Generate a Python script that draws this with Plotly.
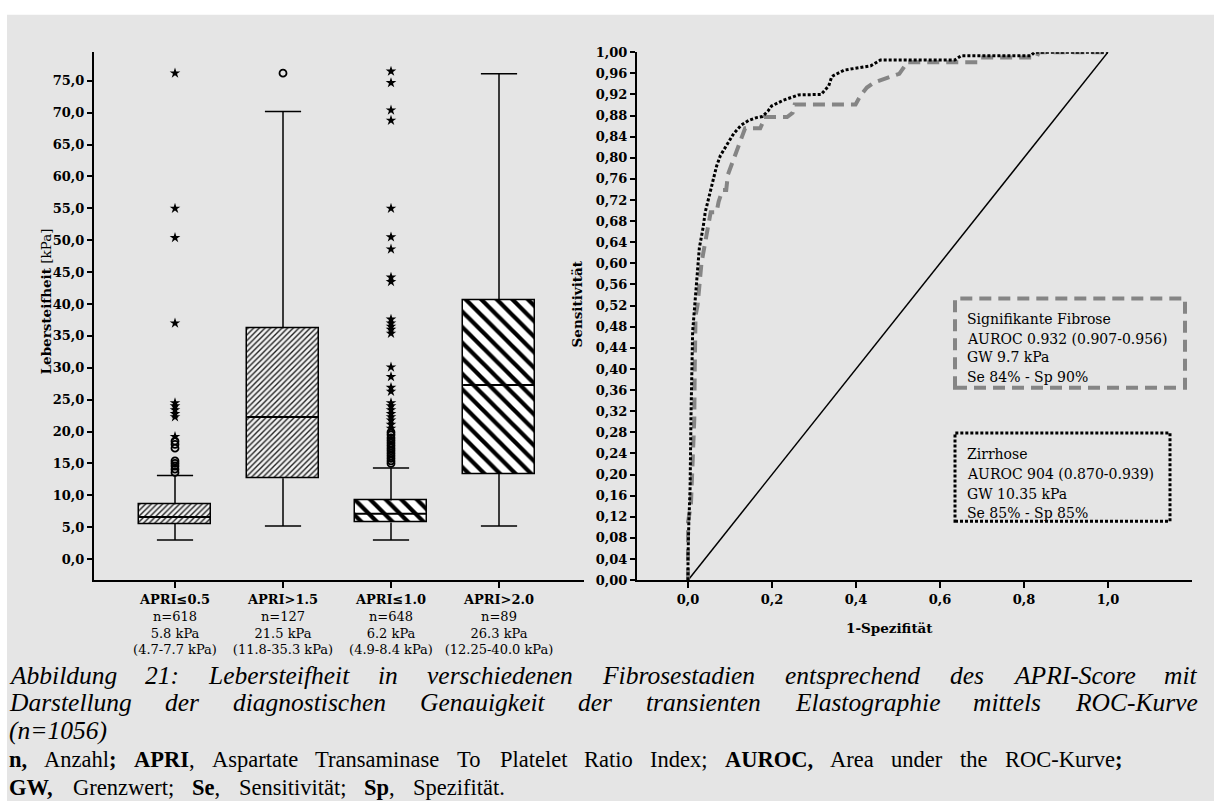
import plotly.graph_objects as go

W, H = 1214, 809

# ---------------- data: box plot (left panel) ----------------
categories = ["APRI≤0.5", "APRI>1.5", "APRI≤1.0", "APRI>2.0"]
n_counts = [618, 127, 648, 89]
median_text = ["5.8 kPa", "21.5 kPa", "6.2 kPa", "26.3 kPa"]
iqr_text = ["(4.7-7.7 kPa)", "(11.8-35.3 kPa)", "(4.9-8.4 kPa)", "(12.25-40.0 kPa)"]
whisker_low = [3.0, 5.2, 3.0, 5.2]
q1 = [5.5, 12.7, 5.75, 13.4]
median = [6.6, 22.3, 7.1, 27.3]
q3 = [8.6, 36.2, 9.2, 40.6]
whisker_high = [13.1, 70.2, 14.3, 76.1]

stars_apri05 = [76.2, 55.0, 50.4, 37.0, 24.5, 24.0, 23.4, 22.8, 22.3, 19.2]
circles_apri05 = [18.5, 18.0, 17.4, 15.4, 15.0, 14.6, 14.1, 13.6]
circles_apri15 = [76.2]
stars_apri10 = [76.5, 74.7, 70.4, 68.8, 55.0, 50.5, 48.6, 44.2, 43.5, 37.6, 37.0,
                36.5, 36.0, 35.4, 30.1, 28.6, 26.9, 26.3, 24.5, 24.0, 23.4, 22.8,
                22.3, 21.8, 21.1, 20.5]
circles_apri10 = [19.9, 19.5, 19.0, 18.6, 18.2, 17.8, 17.4, 17.0, 16.6, 16.2,
                  15.8, 15.4, 15.0]

# ---------------- data: ROC curves (right panel) ----------------
zirr_fpr = [0.0, 0.0, 0.002, 0.005, 0.007, 0.009, 0.011, 0.014, 0.018, 0.023, 0.027,
            0.036, 0.041, 0.050, 0.059, 0.068, 0.077, 0.091, 0.109, 0.127, 0.145,
            0.163, 0.177, 0.190, 0.199, 0.227, 0.263, 0.317, 0.335, 0.342, 0.345,
            0.372, 0.435, 0.458, 0.635, 0.650, 0.816, 0.825, 1.0]
zirr_tpr = [0.0, 0.045, 0.110, 0.175, 0.305, 0.435, 0.470, 0.500, 0.545, 0.590, 0.629,
            0.668, 0.697, 0.726, 0.758, 0.784, 0.804, 0.823, 0.846, 0.862, 0.871,
            0.876, 0.878, 0.888, 0.898, 0.909, 0.919, 0.920, 0.936, 0.953, 0.955,
            0.966, 0.974, 0.985, 0.985, 0.993, 0.993, 1.0, 1.0]
sig_fpr = [0.0, 0.0, 0.007, 0.011, 0.015, 0.016, 0.018, 0.023, 0.027, 0.032, 0.041,
           0.050, 0.054, 0.068, 0.073, 0.082, 0.091, 0.095, 0.104, 0.118, 0.127,
           0.136, 0.172, 0.177, 0.181, 0.236, 0.249, 0.254, 0.399, 0.410, 0.426,
           0.444, 0.480, 0.503, 0.517, 0.520, 0.690, 0.695, 0.830, 0.835, 1.0]
sig_tpr = [0.0, 0.110, 0.143, 0.210, 0.305, 0.400, 0.500, 0.522, 0.561, 0.600, 0.640,
           0.680, 0.697, 0.697, 0.717, 0.739, 0.739, 0.768, 0.788, 0.820, 0.840,
           0.856, 0.856, 0.865, 0.877, 0.877, 0.885, 0.901, 0.901, 0.917, 0.933,
           0.943, 0.953, 0.959, 0.975, 0.981, 0.981, 0.990, 0.990, 1.0, 1.0]

sig_text = ["Signifikante Fibrose", "AUROC 0.932 (0.907-0.956)", "GW 9.7 kPa", "Se 84% - Sp 90%"]
zirr_text = ["Zirrhose", "AUROC 904 (0.870-0.939)", "GW 10.35 kPa", "Se 85% - Sp 85%"]

caption_lines = [
    "Abbildung 21: Lebersteifheit in verschiedenen Fibrosestadien entsprechend des APRI-Score mit",
    "Darstellung der diagnostischen Genauigkeit der transienten Elastographie mittels ROC-Kurve",
    "(n=1056)",
]
# abbreviation notes: words as (text, bold) pieces
note_words1 = [[("n,", 1)], [("Anzahl", 0), (";", 1)], [("APRI", 1), (",", 0)], [("Aspartate", 0)],
               [("Transaminase", 0)], [("To", 0)], [("Platelet", 0)], [("Ratio", 0)],
               [("Index;", 0)], [("AUROC,", 1)], [("Area", 0)], [("under", 0)], [("the", 0)],
               [("ROC-Kurve", 0), (";", 1)]]
note_words2 = [[("GW,", 1)], [("Grenzwert;", 0)], [("Se", 1), (",", 0)], [("Sensitivität;", 0)],
               [("Sp", 1), (",", 0)], [("Spezifität.", 0)]]

# ---------------- layout helpers ----------------
FONT = "DejaVu Serif"
CAP_FONT = "Liberation Serif"
BG = "#e5e5e5"

def px_x(p):
    return p / W

def px_y(p):
    return 1 - p / H

# Times advance widths (per 1000 em) used to spread words like the justified source
TI = {' ': 250, 'A': 611, 'B': 611, 'C': 667, 'D': 722, 'E': 611, 'F': 611, 'G': 722,
      'H': 722, 'I': 333, 'K': 667, 'L': 556, 'M': 833, 'N': 667, 'O': 722, 'P': 611,
      'R': 611, 'S': 500, 'T': 556, 'U': 722, 'a': 500, 'b': 500, 'c': 444, 'd': 500,
      'e': 444, 'f': 278, 'g': 500, 'h': 500, 'i': 278, 'k': 444, 'l': 278, 'm': 722,
      'n': 500, 'o': 500, 'p': 500, 'r': 389, 's': 389, 't': 278, 'u': 500, 'v': 444,
      'w': 667, 'z': 389, ':': 333, '-': 333, '(': 333, ')': 333, '=': 675}
TR = {' ': 250, ',': 250, ';': 278, '.': 250, '-': 333, 'A': 722, 'C': 667, 'G': 722,
      'I': 333, 'K': 722, 'O': 722, 'P': 556, 'R': 667, 'S': 556, 'T': 611, 'W': 944,
      'a': 444, 'b': 500, 'c': 444, 'd': 500, 'e': 444, 'f': 333, 'g': 500, 'h': 500,
      'i': 278, 'k': 500, 'l': 278, 'm': 778, 'n': 500, 'o': 500, 'p': 500, 'r': 333,
      's': 389, 't': 278, 'u': 500, 'v': 500, 'w': 722, 'x': 500, 'z': 444, 'ä': 444,
      'ü': 500}
TB = {',': 250, ';': 333, 'n': 556, 'A': 722, 'P': 611, 'R': 722, 'I': 389, 'U': 722,
      'O': 778, 'C': 722, 'G': 778, 'W': 1000, 'S': 556, 'e': 444, 'p': 556}

def tw(s, size, table):
    return sum(table.get(c, 500) for c in s) * size / 1000.0

def piece_width(pieces, size):
    return sum(tw(t, size, TB if b else TR) for t, b in pieces)

def piece_html(pieces):
    return "".join(f"<b>{t}</b>" if b else t for t, b in pieces)

fig = go.Figure()

pos = list(range(len(categories)))
BOXW = 0.665
CAPW = 0.335

# boxes (hatched bars from q1 to q3)
for idxs, shape, size, sol, fg, bgc in [([0, 1], "/", 4, 0.34, "#202020", "#f2f2f2"),
                                        ([2, 3], "\\", 11, 0.38, "#000000", "#ffffff")]:
    fig.add_trace(go.Bar(
        x=[pos[i] for i in idxs], y=[q3[i] - q1[i] for i in idxs], base=[q1[i] for i in idxs],
        width=BOXW, xaxis="x", yaxis="y", opacity=1,
        marker=dict(color="white", opacity=1, line=dict(color="black", width=1.5),
                    pattern=dict(shape=shape, size=size, solidity=sol, fgcolor=fg,
                                 bgcolor=bgc, fgopacity=1, fillmode="replace")),
        showlegend=False, hoverinfo="skip"))

# whiskers, caps and medians
wx, wy = [], []
for i in pos:
    wx += [i, i, None, i, i, None]
    wy += [q3[i], whisker_high[i], None, q1[i], whisker_low[i], None]
    for v in (whisker_high[i], whisker_low[i]):
        wx += [i - CAPW / 2, i + CAPW / 2, None]
        wy += [v, v, None]
fig.add_trace(go.Scatter(x=wx, y=wy, mode="lines", line=dict(color="black", width=1.5),
                         xaxis="x", yaxis="y", showlegend=False, hoverinfo="skip"))
mx, my = [], []
for i in pos:
    mx += [i - BOXW / 2, i + BOXW / 2, None]
    my += [median[i], median[i], None]
fig.add_trace(go.Scatter(x=mx, y=my, mode="lines", line=dict(color="black", width=2),
                         xaxis="x", yaxis="y", showlegend=False, hoverinfo="skip"))

# outliers
for cat, vals in [(0, stars_apri05), (2, stars_apri10)]:
    fig.add_trace(go.Scatter(x=[pos[cat]] * len(vals), y=vals, mode="markers",
                             marker=dict(symbol="star", size=8, color="black"),
                             xaxis="x", yaxis="y", showlegend=False, hoverinfo="skip"))
for cat, vals in [(0, circles_apri05), (1, circles_apri15), (2, circles_apri10)]:
    fig.add_trace(go.Scatter(x=[pos[cat]] * len(vals), y=vals, mode="markers",
                             marker=dict(symbol="circle-open", size=7, color="black",
                                         line=dict(width=1.8)),
                             xaxis="x", yaxis="y", showlegend=False, hoverinfo="skip"))

# ROC panel
fig.add_trace(go.Scatter(x=[0, 1], y=[0, 1], mode="lines", line=dict(color="black", width=1.5),
                         xaxis="x2", yaxis="y2", showlegend=False, hoverinfo="skip"))
fig.add_trace(go.Scatter(x=sig_fpr, y=sig_tpr, mode="lines",
                         line=dict(color="#858585", width=4, dash="12px,7px"),
                         xaxis="x2", yaxis="y2", showlegend=False, hoverinfo="skip"))
fig.add_trace(go.Scatter(x=zirr_fpr, y=zirr_tpr, mode="lines",
                         line=dict(color="black", width=3, dash="3px,2px"),
                         xaxis="x2", yaxis="y2", showlegend=False, hoverinfo="skip"))

# info boxes on the ROC panel (placed in page pixels)
fig.add_shape(type="rect", xref="paper", yref="paper", x0=px_x(955), x1=px_x(1185),
              y0=px_y(388), y1=px_y(297),
              line=dict(color="#858585", width=4, dash="12px,7px"), fillcolor="rgba(0,0,0,0)")
fig.add_shape(type="rect", xref="paper", yref="paper", x0=px_x(955), x1=px_x(1170),
              y0=px_y(524), y1=px_y(434),
              line=dict(color="black", width=3, dash="3px,2px"), fillcolor="rgba(0,0,0,0)")
for lines, ys in [(sig_text, [318, 338, 357, 377]), (zirr_text, [455, 476, 496, 516])]:
    for t, yv in zip(lines, ys):
        fig.add_annotation(x=px_x(966), y=px_y(yv), xref="paper", yref="paper", text=t,
                           showarrow=False, xanchor="left", yanchor="middle", borderpad=0,
                           font=dict(family=FONT, size=14, color="black"))

# background
fig.add_shape(type="rect", xref="paper", yref="paper", x0=px_x(7), x1=1, y0=0, y1=px_y(8),
              fillcolor=BG, line=dict(width=0), layer="below")

ticktext = [f"<b>{c}</b><br>n={n}<br>{m}<br>{r}" for c, n, m, r in
            zip(categories, n_counts, median_text, iqr_text)]

ydom = [px_y(584), px_y(46)]
D = 420.0  # pixels per unit on the ROC x axis
fig.update_layout(
    width=W, height=H, margin=dict(l=0, r=0, t=0, b=0),
    paper_bgcolor="white", plot_bgcolor="rgba(0,0,0,0)",
    separators=",.", bargap=0,
    font=dict(family=FONT, color="black"),
    xaxis=dict(domain=[px_x(94), px_x(584)], range=[-0.75, 3.787], showgrid=False,
               zeroline=False, showline=True, linecolor="black", linewidth=2,
               ticks="outside", ticklen=6, tickwidth=1.5, tickcolor="black",
               tickvals=pos, ticktext=ticktext, tickfont=dict(family=FONT, size=13),
               anchor="y", fixedrange=True),
    yaxis=dict(domain=ydom, range=[-3.3, 79.5], showgrid=False, zeroline=False,
               showline=True, linecolor="black", linewidth=2, ticks="outside", ticklen=5,
               tickwidth=1.5, tickcolor="black", tickvals=list(range(0, 80, 5)),
               tickformat=".1f", tickfont=dict(family=FONT, size=13, weight="bold"),
               anchor="x", fixedrange=True),
    xaxis2=dict(domain=[px_x(637), px_x(1192)], range=[(637 - 688) / D, (1192 - 688) / D],
                showgrid=False, zeroline=False, showline=True, linecolor="black", linewidth=2,
                ticks="outside", ticklen=6, tickwidth=1.5, tickcolor="black",
                tickvals=[0, 0.2, 0.4, 0.6, 0.8, 1.0], tickformat=".1f",
                tickfont=dict(family=FONT, size=13, weight="bold"), anchor="y2",
                fixedrange=True),
    yaxis2=dict(domain=ydom, range=[0, 1], showgrid=False, zeroline=False, showline=True,
                linecolor="black", linewidth=2, ticks="outside", ticklen=5, tickwidth=1.5,
                tickcolor="black", tickvals=[i / 25 for i in range(26)], tickformat=".2f",
                tickfont=dict(family=FONT, size=13, weight="bold"), anchor="x2",
                fixedrange=True),
)

# axis titles
fig.add_annotation(x=px_x(36), y=px_y(300), xref="paper", yref="paper", textangle=-90,
                   text="<b>Lebersteifheit</b> [kPa]", showarrow=False,
                   font=dict(family=FONT, size=13.5))
fig.add_annotation(x=px_x(577), y=px_y(303), xref="paper", yref="paper", textangle=-90,
                   text="<b>Sensitivität</b>", showarrow=False, font=dict(family=FONT, size=13.5))
fig.add_annotation(x=px_x(935), y=px_y(633), xref="paper", yref="paper", text="<b>1-Spezifität</b>",
                   showarrow=False, yanchor="middle", font=dict(family=FONT, size=13.5))

# caption (justified lines)
CAP_SIZE = 25.5
cap_y = [681, 709, 737]
for k, line in enumerate(caption_lines):
    words = line.split(" ")
    if k < 2:
        widths = [tw(w, CAP_SIZE, TI) for w in words]
        gap = (1197 - 9 - sum(widths)) / (len(words) - 1)
        x = 9
        for w, wd in zip(words, widths):
            fig.add_annotation(x=px_x(x), y=px_y(cap_y[k]), xref="paper", yref="paper",
                               text=f"<i>{w}</i>", showarrow=False, xanchor="left",
                               yanchor="middle", borderpad=0, borderwidth=0,
                               font=dict(family=CAP_FONT, size=CAP_SIZE))
            x += wd + gap
    else:
        fig.add_annotation(x=px_x(9), y=px_y(cap_y[k]), xref="paper", yref="paper",
                           text=f"<i>{line}</i>", showarrow=False, xanchor="left",
                           yanchor="middle", borderpad=0, borderwidth=0,
                           font=dict(family=CAP_FONT, size=CAP_SIZE))

NOTE_SIZE = 22.5
for words, yy, x_end in [(note_words1, 767, 1122), (note_words2, 795, 505)]:
    widths = [piece_width(p, NOTE_SIZE) for p in words]
    gap = (x_end - 9 - sum(widths)) / (len(words) - 1)
    x = 9
    for p, wd in zip(words, widths):
        fig.add_annotation(x=px_x(x), y=px_y(yy), xref="paper", yref="paper",
                           text=piece_html(p), showarrow=False, xanchor="left",
                           yanchor="middle", borderpad=0, borderwidth=0,
                           font=dict(family=CAP_FONT, size=NOTE_SIZE))
        x += wd + gap

fig.write_html("out.html")
